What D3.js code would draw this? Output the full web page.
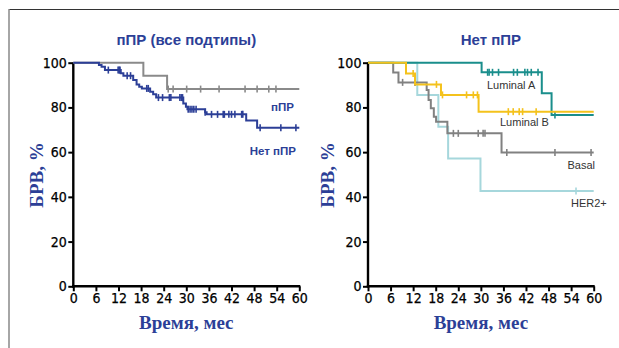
<!DOCTYPE html>
<html>
<head>
<meta charset="utf-8">
<script src="https://cdn.jsdelivr.net/npm/d3@7"></script>
<style>
  body { margin: 0; background: #fff; }
  svg { display: block; }
</style>
</head>
<body>
<svg id="chart" width="619" height="348"></svg>
<script>
// Kaplan-Meier step data: [month, survival %] at each drop
const pprSteps = [[0, 100], [18.6, 94.2], [24.9, 88.2]];
const pprCensors = [25.2, 26.5, 30.1, 33.8, 38.7, 45.6, 48.8, 51.9, 53.8];

const noPprSteps = [[0, 100], [6.8, 99.0], [7.5, 98.2], [8.4, 96.7], [12.6, 95.3], [13.3, 94.2],
  [15.9, 92.3], [16.8, 90.3], [17.5, 89.3], [18.2, 88.5], [20.4, 87.0], [21.2, 85.9], [22.0, 84.4],
  [29.2, 81.8], [29.9, 80.3], [30.3, 79.2], [35.0, 77.8], [35.4, 76.9], [45.9, 74.1], [48.8, 70.9]];
const noPprCensors = [9.3, 11.9, 12.2, 12.4, 14.3, 15.2, 19.5, 19.9, 22.6, 23.7, 25.5, 25.9,
  28.3, 28.7, 29.0, 30.5, 31.0, 31.5, 32.0, 32.6, 35.0, 36.7, 38.3, 39.8, 40.1, 41.3, 42.0, 42.9,
  44.7, 45.0, 49.6, 55.1, 59.1];

const lumASteps = [[0, 100], [30.2, 95.7], [46.2, 86.3], [48.8, 76.6]];
const lumACensors = [31.8, 32.2, 33.1, 34.7, 38.7, 39.7, 41.7, 42.4, 43.4, 45.2, 49.7];

const lumBSteps = [[0, 100], [10.1, 95.2], [12.5, 90.3], [19.4, 85.6], [29.4, 78.1]];
const lumBCensors = [12.0, 18.2, 19.8, 26.2, 28.0, 29.1, 37.3, 38.6, 40.2, 41.1, 44.7];

const basalSteps = [[0, 100], [6.7, 95.6], [8.1, 91.2], [15.6, 87.8], [16.1, 83.3], [16.7, 79.6],
  [17.5, 75.8], [18.1, 73.6], [21.1, 68.4], [35.5, 59.8]];
const basalCensors = [9.2, 12.5, 22.7, 24.0, 29.3, 30.6, 31.1, 36.9, 49.7, 59.3];

const her2Steps = [[0, 100], [13.1, 85.6], [18.7, 71.4], [21.3, 57.2], [29.9, 42.6]];
const her2Censors = [55.3];

const xTicks = [0, 6, 12, 18, 24, 30, 36, 42, 48, 54, 60];
const yTicks = [0, 20, 40, 60, 80, 100];

const blue = "#2c3f97";
const svg = d3.select("#chart");

// frame
svg.append("line").attr("x1", 9).attr("x2", 619).attr("y1", 9.5).attr("y2", 9.5)
  .attr("stroke", "#333").attr("stroke-width", 1.2);
svg.append("line").attr("x1", 9).attr("x2", 9).attr("y1", 9).attr("y2", 348)
  .attr("stroke", "#888").attr("stroke-width", 1.5);

const panels = [
  {
    title: "пПР (все подтипы)", x0: 73.3, x1: 299.3, ylabX: 36,
    series: [
      { steps: pprSteps, censors: pprCensors, color: "#8a8a8a" },
      { steps: noPprSteps, censors: noPprCensors, color: blue }
    ],
    labels: [
      { text: "пПР", x: 294, y: 107, anchor: "end", color: blue, bold: true },
      { text: "Нет пПР", x: 296, y: 151, anchor: "end", color: blue, bold: true }
    ]
  },
  {
    title: "Нет пПР", x0: 368, x1: 593.7, ylabX: 327,
    series: [
      { steps: her2Steps, censors: her2Censors, color: "#a6d7dc" },
      { steps: basalSteps, censors: basalCensors, color: "#818181" },
      { steps: lumASteps, censors: lumACensors, color: "#1a8e8c" },
      { steps: lumBSteps, censors: lumBCensors, color: "#f4c21c" }
    ],
    labels: [
      { text: "Luminal A", x: 487, y: 85, anchor: "start", color: "#333" },
      { text: "Luminal B", x: 500, y: 122, anchor: "start", color: "#333" },
      { text: "Basal", x: 595, y: 165, anchor: "end", color: "#333" },
      { text: "HER2+", x: 571, y: 203, anchor: "start", color: "#333" }
    ]
  }
];

const tickFont = "'Liberation Sans Narrow', 'DejaVu Sans Condensed', sans-serif";

panels.forEach(p => {
  const x = d3.scaleLinear().domain([0, 60]).range([p.x0, p.x1]);
  const y = d3.scaleLinear().domain([0, 100]).range([286.3, 62.7]);
  const g = svg.append("g");

  // title
  g.append("text").attr("x", (p.x0 + p.x1) / 2 + (p.title === "Нет пПР" ? 10 : 0)).attr("y", 45)
    .attr("text-anchor", "middle").attr("fill", blue)
    .style("font", "bold 15px 'Liberation Sans', Arial, sans-serif")
    .text(p.title);

  // axes
  const xAxis = g.append("g").attr("transform", `translate(0,${y(0)})`)
    .call(d3.axisBottom(x).tickValues(xTicks).tickSize(5).tickSizeOuter(0));
  const yAxis = g.append("g").attr("transform", `translate(${x(0)},0)`)
    .call(d3.axisLeft(y).tickValues(yTicks).tickSize(5).tickSizeOuter(0));
  [xAxis, yAxis].forEach(a => {
    a.select(".domain").attr("stroke", "#000").attr("stroke-width", 2.4);
    a.selectAll(".tick line").attr("stroke", "#000").attr("stroke-width", 2);
    a.selectAll(".tick text").attr("fill", "#000")
      .style("font-family", tickFont).style("font-size", "14px")
      .attr("stroke", "#000").attr("stroke-width", 0.25);
  });
  xAxis.select(".domain").attr("d", `M${x(0) - 1.2},0H${x(60) + 1}`);
  yAxis.select(".domain").attr("d", `M0,${y(0) + 1.2}V${y(100)}`);
  xAxis.selectAll(".tick text").attr("dy", "0.62em");
  yAxis.selectAll(".tick text").attr("dx", "0.1em");

  // axis titles
  g.append("text").attr("transform", `translate(${p.ylabX},175) rotate(-90)`)
    .attr("text-anchor", "middle").attr("dy", "0.35em").attr("fill", blue)
    .style("font", "bold 19px 'Liberation Serif', 'Times New Roman', serif")
    .text("БРВ, %");
  g.append("text").attr("x", (p.x0 + p.x1) / 2).attr("y", 329)
    .attr("text-anchor", "middle").attr("fill", blue)
    .style("font", "bold 19px 'Liberation Serif', 'Times New Roman', serif")
    .text("Время, мес");

  // curves
  const line = d3.line().curve(d3.curveStepAfter).x(d => x(d[0])).y(d => y(d[1]));
  p.series.forEach(s => {
    const pts = s.steps.concat([[60, s.steps[s.steps.length - 1][1]]]);
    g.append("path").attr("d", line(pts)).attr("fill", "none")
      .attr("stroke", s.color).attr("stroke-width", 2);
    const valueAt = t => {
      let v = 100;
      s.steps.forEach(st => { if (st[0] <= t) v = st[1]; });
      return v;
    };
    g.selectAll(null).data(s.censors).enter().append("line")
      .attr("x1", d => x(d)).attr("x2", d => x(d))
      .attr("y1", d => y(valueAt(d)) - 3.5).attr("y2", d => y(valueAt(d)) + 3.5)
      .attr("stroke", s.color).attr("stroke-width", 1.6);
  });

  // series labels
  p.labels.forEach(l => {
    g.append("text").attr("x", l.x).attr("y", l.y).attr("dy", "0.35em")
      .attr("text-anchor", l.anchor).attr("fill", l.color)
      .style("font", `${l.bold ? "bold 11.5px" : "11px"} 'Liberation Sans', Arial, sans-serif`)
      .text(l.text);
  });
});
</script>
</body>
</html>
